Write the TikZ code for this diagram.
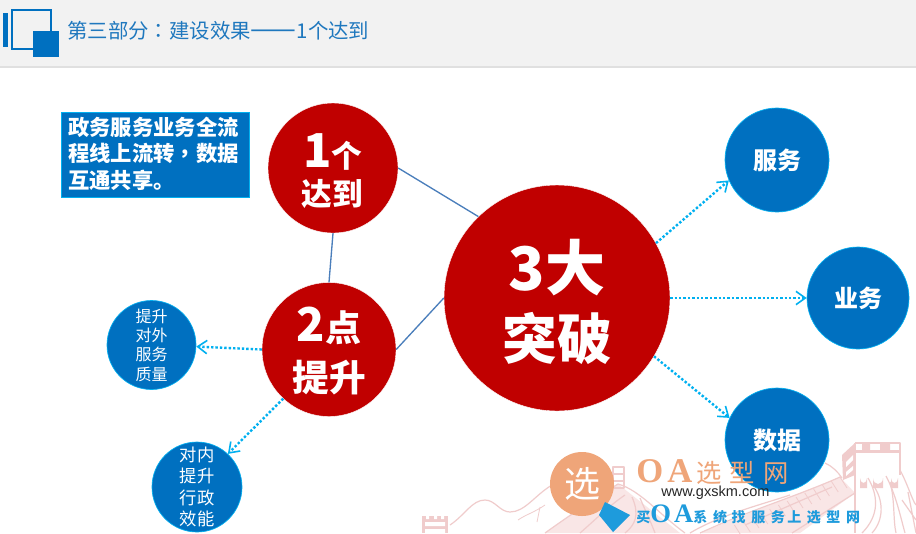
\documentclass[tikz,border=0pt]{standalone}
\usepackage{fontspec}
\setmainfont{Noto Sans CJK SC}
\setsansfont{Liberation Sans}
\newfontfamily\cjktc{Noto Sans CJK TC}
\newfontfamily\cjkls[LetterSpace=31]{Noto Sans CJK SC}
\newfontfamily\serifls[LetterSpace=12]{Liberation Serif}
\newfontfamily\cjksl[LetterSpace=40]{Noto Sans CJK SC}
\usetikzlibrary{arrows.meta,calc}
\definecolor{oablue}{HTML}{0070C0}
\definecolor{oared}{HTML}{C00000}
\definecolor{oacyan}{HTML}{00B0F0}
\definecolor{oaorange}{HTML}{EFA579}
\definecolor{oawall}{HTML}{F0CCCC}
\definecolor{oapale}{HTML}{F9E6E6}
\definecolor{oakite}{HTML}{1E9BDC}
\definecolor{oatitle}{HTML}{1F78BE}
\definecolor{oalink}{HTML}{4A7EBB}
\newcommand{\px}[1]{\fontsize{#1}{#1}\selectfont}
\newcommand{\pxl}[2]{\fontsize{#1}{#2}\selectfont}
\tikzset{
  x=0.75pt,y=-0.75pt,
  redc/.style={circle,fill=oared,draw=white,line width=0.3pt,inner sep=0pt,text=white,font=\bfseries,align=center},
  bluec/.style={circle,fill=oablue,draw=oacyan,line width=0.5pt,inner sep=0pt,text=white,align=center},
  link/.style={draw=oalink,line width=1pt},
  dotarrow/.style={draw=oacyan,line width=1.8pt,dash pattern=on 1.8pt off 1.5pt,
     -{Straight Barb[length=7pt,width=10pt,line width=1.2pt]}},
  wall/.style={draw=oawall,line width=0.9pt,line join=round}
}
\begin{document}
\begin{tikzpicture}
\useasboundingbox (0,0) rectangle (916,533);
\fill[white] (0,0) rectangle (916,533);
% header
\fill[black!5] (0,0) rectangle (916,66);
\fill[black!12] (0,66) rectangle (916,68);
\fill[oablue] (3,13) rectangle (8,47);
\draw[oablue,line width=1.6pt] (12,10) rectangle (51,49);
\fill[oablue] (33,31) rectangle (59,57);
\node[anchor=west,inner sep=0pt,text=oatitle,font=\px{15.3}] (title) at (67,31) {第三部分{\cjktc ：}建设效果{\px{20.5}——}1个达到};
% watermark: right tower and wall
\fill[oapale] (840,477) -- (700,533) -- (800,533) -- (855,493) -- cycle;
\draw[wall] (840,477) .. controls (800,495) and (750,510) .. (700,533);
\draw[wall] (832,487) -- (745,525);
\draw[wall] (855,493) -- (800,528) -- (792,533);
\foreach \t in {0,0.08,...,1}{
  \draw[oawall,line width=0.6pt] ($(840,477)!\t!(730,527)$) -- ++(7,11);
}
\fill[oawall] (842,455) -- (855,443) -- (855,475) -- (843,480) -- cycle;
\fill[white] (846,462) -- (853,455) -- (853,460) -- (846,467) -- cycle
             (846,472) -- (853,466) -- (853,470) -- (846,476) -- cycle;
\draw[wall,line width=1.4pt] (855,443) -- (900,443) -- (900,475);
\draw[wall] (855,443) -- (855,533);
\fill[oawall] (855,450) rectangle (900,453);
\fill[oawall] (862,444) rectangle (870,450) (880,444) rectangle (890,450);
\fill[oawall] (860,488) -- (860,478) arc[start angle=180,end angle=0,x radius=3.5,y radius=5] -- (867,488) -- cycle;
\fill[oawall] (873,488) -- (873,478) arc[start angle=180,end angle=0,x radius=5,y radius=6] -- (883,488) -- cycle;
\fill[oawall] (891,488) -- (891,478) arc[start angle=180,end angle=0,x radius=3.5,y radius=5] -- (898,488) -- cycle;
\draw[wall] (868,478) .. controls (878,495) and (880,515) .. (862,533);
\draw[wall] (873,485) .. controls (884,500) and (884,520) .. (872,533);
\draw[wall] (886,476) .. controls (896,495) and (900,515) .. (905,533);
\draw[wall] (890,482) .. controls (895,500) and (893,520) .. (896,533);
\draw[wall] (900,470) .. controls (908,485) and (912,500) .. (916,505);
\draw[wall] (902,500) -- (916,520) (908,492) -- (916,533);
\draw[wall] (825,463) .. controls (832,466) and (838,472) .. (842,478);
% watermark: left tower, ridges and wall
\fill[oawall] (422,516) rectangle (448,533);
\fill[white] (425,522) rectangle (445,526) (425,529) rectangle (445,533) (426,516) rectangle (429,519) (434,516) rectangle (437,519) (441,516) rectangle (444,519);
\draw[wall] (450,525) .. controls (465,515) and (472,500) .. (485,500) .. controls (495,500) and (500,512) .. (510,512) .. controls (525,512) and (535,495) .. (552,485);
\draw[wall,line width=0.6pt] (518,520) .. controls (525,515) and (535,512) .. (545,505) (537,522) -- (540,507);
\fill[oapale] (545,533) .. controls (570,515) and (600,495) .. (618,484) -- (680,533) -- cycle;
\draw[wall] (545,533) .. controls (570,515) and (600,495) .. (618,484) .. controls (640,490) and (660,515) .. (685,533);
\draw[wall] (580,533) .. controls (595,520) and (610,505) .. (625,495);
\draw[wall] (625,533) .. controls (635,525) and (640,515) .. (632,497);
\draw[wall] (655,533) .. controls (650,520) and (645,510) .. (640,498);
\draw[wall] (613,467) rectangle (624,488);
\draw[wall] (613,474) -- (624,474) (613,481) -- (624,481);
\draw[wall] (690,533) .. controls (720,515) and (760,505) .. (790,495);
% circles
\node[redc,minimum size=226pt*0.75] (three) at (557,298) {};
\node[redc,minimum size=130pt*0.75] (one) at (333,168) {};
\node[redc,minimum size=134pt*0.75] (two) at (329,349.5) {};
\node[bluec,minimum size=104pt*0.75,font=\bfseries\px{18}] (fuwu) at (777,160) {服务};
\node[bluec,minimum size=102pt*0.75,font=\bfseries\px{18}] (yewu) at (858,298) {业务};
\node[bluec,minimum size=104pt*0.75,font=\bfseries\px{18}] (shuju) at (777,440) {数据};
\node[bluec,minimum size=89pt*0.75,font=\pxl{12}{14.5}] (ext) at (151.5,345) {提升\\对外\\服务\\质量};
\node[bluec,minimum size=90pt*0.75,font=\pxl{13}{16.1}] (int) at (197,487) {对内\\提升\\行政\\效能};
% link lines
\draw[link] (one.0) -- (three.134);
\draw[link] (one.-90) -- (two.90);
\draw[link] (two.0) -- (three.180);
% dotted arrows
\draw[dotarrow] (three.29) -- (fuwu.203);
\draw[dotarrow] (three.0) -- (yewu.180);
\draw[dotarrow] (three.-31) -- (shuju.155);
\draw[dotarrow] (two.180) -- (ext.-2);
\draw[dotarrow] (two.-133) -- (int.47);
% big texts
\node[text=white,font=\bfseries\px{45},inner sep=0pt] (t3) at (557,268) {3大};
\node[text=white,font=\bfseries\px{41},inner sep=0pt] (t3b) at (557,338) {突破};
\node[text=white,font=\bfseries,inner sep=0pt] (t1) at (333,152) {{\px{35}1}{\px{23}个}};
\node[text=white,font=\bfseries\px{23},inner sep=0pt] (t1b) at (332,194) {达到};
\node[text=white,font=\bfseries,inner sep=0pt] (t2) at (329,326) {{\px{35}2}{\px{27}点}};
\node[text=white,font=\bfseries\px{27.5},inner sep=0pt] (t2b) at (329,378) {提升};
% text box
\node[anchor=north west,fill=oablue,draw=oacyan,line width=0.7pt,minimum width=141pt,minimum height=64pt,inner sep=0pt] (box) at (61,112) {};
\node[anchor=north west,text=white,font=\bfseries\pxl{16}{20},inner sep=0pt,align=left] (boxt) at (68,116.5) {政务服务业务全流\\程线上流转{\cjktc ，}数据\\互通共享。};
% logo
\node[circle,fill=oaorange,minimum size=64pt*0.75,inner sep=0pt,text=white,font=\px{27}] (xuan) at (582,484) {选};
\fill[oakite] (605,502) -- (630,515) -- (613,532) -- (599,515) -- cycle;
\node[anchor=west,inner sep=0pt,text=oaorange,font=\px{19}] (oa) at (636,472) {{\serifls\px{26}\bfseries OA}\,{\cjkls 选型网}};
\node[anchor=west,inner sep=0pt,text=black!85,font=\sffamily\px{10.9}] (url) at (661,493) {www.gxskm.com};
\node[anchor=west,inner sep=0pt,text=oakite,font=\bfseries\px{10.5}] (slogan) at (636,514) {买{\serifls\px{20}OA}{\cjksl 系统\,\,找服务\,上选型网}};
\end{tikzpicture}
\end{document}
